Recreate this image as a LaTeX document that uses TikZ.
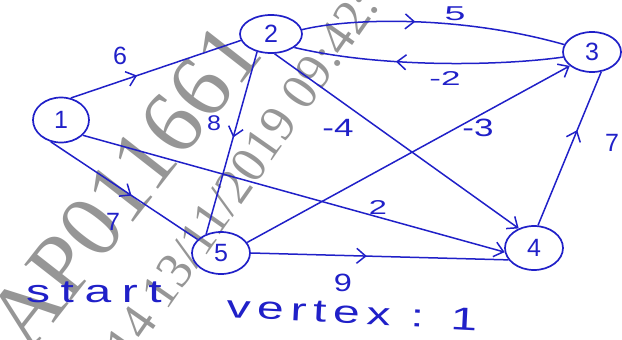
\documentclass[tikz,border=0pt]{standalone}
\usepackage{fontspec}
\setmainfont{Liberation Sans}
\newfontfamily\wmfont{Liberation Serif}
\newfontfamily\handA[LetterSpace=22]{Liberation Sans}
\newfontfamily\handB[LetterSpace=14]{Liberation Sans}
\usetikzlibrary{shapes.geometric,arrows.meta,decorations.markings}
\definecolor{pen}{RGB}{32,32,200}
\definecolor{wm}{RGB}{150,150,150}
\begin{document}
\begin{tikzpicture}[x=1pt,y=-1pt,
  vtx/.style={draw=pen, line width=1.7pt, ellipse, inner sep=0pt, text=pen,
    font=\fontsize{25}{25}\selectfont},
  edge/.style={draw=pen, line width=1.5pt},
  endtip/.style={-{Straight Barb[length=9pt,width=15pt]}},
  midtip/.style={postaction={decorate}, decoration={markings,
    mark=at position #1 with {\arrow[pen,line width=1.5pt]{Straight Barb[length=9pt,width=15pt]}}}},
  lbl/.style={text=pen, inner sep=0pt, font=\fontsize{25}{25}\selectfont},
  hand/.style={text=pen, inner sep=0pt},
  wmark/.style={text=wm, inner sep=0pt}
]
\useasboundingbox (0,0) rectangle (622,340);
\begin{scope}
\clip (0,0) rectangle (622,340);
% watermark
\node[wmark, rotate=52, font=\wmfont\fontsize{90}{90}\selectfont] (wm1) at (124,186) {AP011661};
\node[wmark, rotate=55, font=\wmfont\fontsize{51}{51}\selectfont] (wm2) at (242,175) {14 13/11/2019 09:42:};
\end{scope}

% vertices
\node[vtx, minimum width=56pt, minimum height=45pt] (n1) at (61,120) {1};
\node[vtx, minimum width=62pt, minimum height=38pt] (n2) at (271,34) {2};
\node[vtx, minimum width=58pt, minimum height=40pt] (n3) at (592,52) {3};
\node[vtx, minimum width=58pt, minimum height=44pt] (n4) at (534,248) {4};
\node[vtx, minimum width=58pt, minimum height=42pt] (n5) at (221,253) {5};

% edges
\draw[edge, midtip=0.39] (n1.66) -- (n2.192);
\draw[edge, midtip=0.43] (n2.8) .. controls (350,18) and (460,15) .. (n3.165);
\draw[edge, midtip=0.62] (n3.190) .. controls (500,66) and (380,68) .. (n2.-30);
\draw[edge, midtip=0.47] (n2.-128) -- (n5.128);
\draw[edge, endtip] (n2.-80) -- (n4.128);
\draw[edge, endtip] (n5.22) -- (n3.-148);
\draw[edge, midtip=0.62] (n4.80) -- (n3.-65);
\draw[edge, endtip] (n1.-35) -- (n4.188);
\draw[edge, midtip=0.55] (n1.-115) -- (n5.150);
\draw[edge, midtip=0.45] (n5.0) -- (n4.205);

% weights
\node[lbl] (w12) at (120,56) {6};
\node[lbl] (w23) at (455,14) {\scalebox{1.5}[0.8]{5}};
\node[lbl] (w32) at (445,79) {\scalebox{1.4}[0.8]{-2}};
\node[lbl] (w25) at (214,123) {\scalebox{1}[0.85]{8}};
\node[lbl] (w24) at (338,128) {\scalebox{1.4}[1]{-4}};
\node[lbl] (w53) at (478,128) {\scalebox{1.4}[1]{-3}};
\node[lbl] (w43) at (612,143) {7};
\node[lbl] (w14) at (378,208) {\scalebox{1.3}[0.8]{2}};
\node[lbl] (w15) at (113,222) {7};
\node[lbl] (w54) at (343,283) {\scalebox{1.3}[1]{9}};

% caption
\node[hand, font=\handA\fontsize{32}{32}\selectfont] (t1) at (94,292) {\scalebox{1.5}[1]{start}};
\node[hand, rotate=-3, font=\handB\fontsize{32}{32}\selectfont] (t2) at (352,313) {\scalebox{1.5}[1]{vertex : 1}};
\end{tikzpicture}
\end{document}
